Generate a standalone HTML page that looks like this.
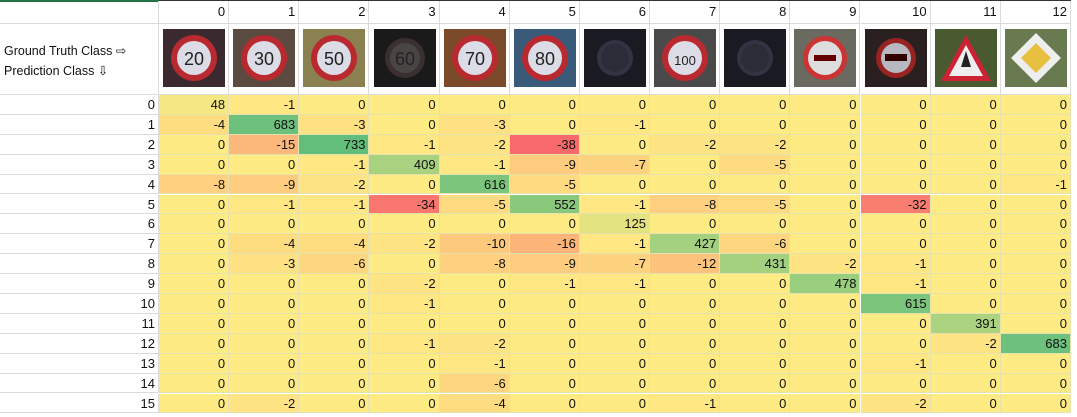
<!DOCTYPE html>
<html><head><meta charset="utf-8"><style>
body{margin:0;width:1077px;height:417px;background:#fff;overflow:hidden;font-family:"Liberation Sans",sans-serif;font-size:13px;color:#111;position:relative}
.c{position:absolute;box-sizing:border-box;border-right:1px solid #dadada;border-bottom:1px solid #dadada;text-align:right;padding-right:3px;line-height:19px;white-space:nowrap}
</style></head><body>
<div style="position:absolute;left:0;top:0;width:159px;height:2px;background:#217346"></div>
<div style="position:absolute;left:159px;top:0;width:912px;height:1px;background:#333"></div>
<div style="position:absolute;left:4px;top:41px;line-height:20px;font-size:12.5px">Ground Truth Class ⇨<br>Prediction Class ⇩</div>
<div id="grid"></div>
<script>
const classes=[0,1,2,3,4,5,6,7,8,9,10,11,12];
const rowsIdx=[0,1,2,3,4,5,6,7,8,9,10,11,12,13,14,15];
const signLabels=["20","30","50","60","70","80","","100","","","","",""];
const m0=[48,-1,0,0,0,0,0,0,0,0,0,0,0];
const m1=[-4,683,-3,0,-3,0,-1,0,0,0,0,0,0];
const m2=[0,-15,733,-1,-2,-38,0,-2,-2,0,0,0,0];
const m3=[0,0,-1,409,-1,-9,-7,0,-5,0,0,0,0];
const m4=[-8,-9,-2,0,616,-5,0,0,0,0,0,0,-1];
const m5=[0,-1,-1,-34,-5,552,-1,-8,-5,0,-32,0,0];
const m6=[0,0,0,0,0,0,125,0,0,0,0,0,0];
const m7=[0,-4,-4,-2,-10,-16,-1,427,-6,0,0,0,0];
const m8=[0,-3,-6,0,-8,-9,-7,-12,431,-2,-1,0,0];
const m9=[0,0,0,-2,0,-1,-1,0,0,478,-1,0,0];
const m10=[0,0,0,-1,0,0,0,0,0,0,615,0,0];
const m11=[0,0,0,0,0,0,0,0,0,0,0,391,0];
const m12=[0,0,0,-1,-2,0,0,0,0,0,0,-2,683];
const m13=[0,0,0,0,-1,0,0,0,0,0,-1,0,0];
const m14=[0,0,0,0,-6,0,0,0,0,0,0,0,0];
const m15=[0,-2,0,0,-4,0,0,-1,0,0,-2,0,0];
const matrix=[m0,m1,m2,m3,m4,m5,m6,m7,m8,m9,m10,m11,m12,m13,m14,m15];

const X0=159,CW=70.15,Y0=95,RH=19.9;
const colX=c=>X0+c*CW, rowY=r=>Y0+r*RH;
let mn=0,mx=0;matrix.forEach(r=>r.forEach(v=>{mn=Math.min(mn,v);mx=Math.max(mx,v)}));
const Y=[255,235,132],R=[248,105,107],G=[99,190,123];
function color(v){let t,o;if(v<0){t=v/mn;o=R}else{t=mx?v/mx:0;o=G}
 return 'rgb('+Y.map((y,i)=>Math.round(y+(o[i]-y)*t)).join(',')+')'}
const g=document.getElementById('grid');
function cell(x,y,w,h,txt,bg,name){const d=document.createElement('div');d.className='c';
 d.style.cssText+=`left:${x}px;top:${y}px;width:${w}px;height:${h}px;`+(bg?`background:${bg};`:'');
 d.textContent=txt;
 
 
 g.appendChild(d);return d}
cell(0,1,X0,23,'',null,'corner-cell');
classes.forEach((c,i)=>{const d=cell(colX(i),1,CW,23,String(c),null,'class-header');d.style.lineHeight='22px'});
cell(0,24,X0,71,'',null,'caption-cell');
classes.forEach((c,i)=>{
 const d=cell(colX(i),24,CW,71,'',null,'sign-image-cell');
 const lbl=signLabels[i];
 let inner;
 if(i<6||i===7){inner=`<circle cx="31" cy="29" r="${i==3?20:23}" fill="${i==3?'#3a3030':'#b82a30'}"/><circle cx="31" cy="29" r="${i==3?15:17}" fill="${i==3?'#4a4545':'#dcdce6'}"/><text x="31" y="36" text-anchor="middle" font-family="Liberation Sans" font-size="${lbl.length>2?13:18}" fill="#222">${lbl}</text>`}
 else if(i===11){inner=`<polygon points="31,6 56,52 6,52" fill="#c23"/><polygon points="31,16 48,47 14,47" fill="#eee"/><path d="M31 22 L36 38 L26 38Z" fill="#222"/>`}
 else if(i===12){inner=`<polygon points="31,4 56,29 31,54 6,29" fill="#eee"/><polygon points="31,14 46,29 31,44 16,29" fill="#e8c040"/>`}
 else if(i===9){inner=`<circle cx="31" cy="29" r="22" fill="#c33"/><circle cx="31" cy="29" r="17" fill="#ddd"/><rect x="20" y="26" width="22" height="6" fill="#600"/>`}
 else if(i===10){inner=`<circle cx="31" cy="29" r="20" fill="#922"/><circle cx="31" cy="29" r="15" fill="#b8b8c0"/><rect x="20" y="25" width="22" height="7" fill="#300"/>`}
 else{inner=`<circle cx="31" cy="29" r="18" fill="#334"/><circle cx="31" cy="29" r="14" fill="#2a2d38"/>`}
 const bgc=[ '#3a2a30','#5a4a40','#8a8050','#1a1a1a','#7a4a2a','#3a5a7a','#1a1a22','#4a4a4a','#1a1a22','#6a6a60','#2a2020','#4a5a30','#6a7a50'][i];
 d.innerHTML=`<svg width="62" height="58" style="position:absolute;left:${(CW-62)/2}px;top:5px"><rect width="62" height="58" fill="${bgc}"/>${inner}</svg>`;
});
rowsIdx.forEach((r,ri)=>{
 cell(0,rowY(ri),X0,RH,String(r),null,'prediction-row-label');
 matrix[ri].forEach((v,ci)=>{
  const d=cell(colX(ci),rowY(ri),CW,RH,String(v),color(v),'matrix-cell');
  d.style.borderColor='#e6e2b0';
 });
});
</script>
</body></html>
